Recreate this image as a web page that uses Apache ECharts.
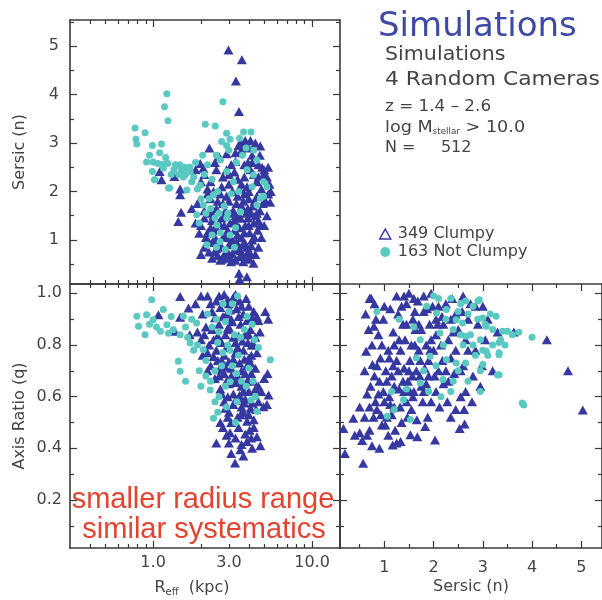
<!DOCTYPE html>
<html><head><meta charset="utf-8">
<script src="https://cdn.jsdelivr.net/npm/echarts@6/dist/echarts.min.js"></script>
<style>html,body{margin:0;padding:0;background:#fff}#c{width:602px;height:600px}</style>
</head><body><div id="c"></div>
<script>
// ---------- DATA ----------
// Top-left panel: [R_eff (kpc), Sersic n]
const clumpyReffN = [
 [2.98,4.92],[3.62,4.72],[3.32,4.28],[3.47,3.65],[2.26,2.90],[4.73,2.94],[1.10,2.41],[1.13,2.24],[1.36,2.31],[1.48,2.05],
 [1.48,1.93],[1.44,1.38],[1.50,1.57],[1.95,1.14],[1.98,2.58],[2.07,2.48],[4.28,0.52],[3.47,0.31],[3.89,0.24],[3.50,0.19],
 [2.6,2.72],[2.9,2.78],[3.3,2.62],[3.6,2.85],[3.8,3.05],[4.0,2.9],[4.2,2.75],[3.45,2.95],[4.6,2.55],[5.0,2.45],
 [3.1,2.55],[2.45,2.6],[4.4,3.0],[3.95,2.6],
 [2.1,2.35],[2.3,2.2],[2.5,2.45],[2.75,2.3],[3.0,2.15],[3.25,2.4],[3.5,2.05],[3.75,2.3],[4.1,2.45],[4.5,2.2],
 [4.8,2.05],[5.2,2.3],[5.4,2.15],[5.3,1.95],[5.5,2.0],[2.2,2.05],[2.0,2.2],[3.9,2.1],[4.3,2.35],[2.9,2.45],
 [4.95,2.35],[3.4,2.25],[1.85,2.45],[5.1,1.8],[5.45,1.78],
 [1.9,1.75],[2.1,1.6],[2.3,1.85],[2.5,1.65],[2.65,1.95],[2.85,1.55],[3.0,1.8],[3.2,1.6],[3.4,1.9],[3.6,1.7],
 [3.85,1.55],[4.0,1.85],[4.25,1.7],[4.5,1.9],[4.7,1.6],[4.9,1.75],[2.4,1.5],[3.3,1.5],[4.4,1.5],[1.75,1.65],
 [2.75,1.75],[3.75,1.95],[2.2,1.95],
 [2.0,1.3],[2.2,1.15],[2.35,1.4],[2.55,1.2],[2.7,1.45],[2.9,1.1],[3.05,1.35],[3.25,1.2],[3.45,1.45],[3.6,1.05],
 [3.8,1.3],[4.05,1.15],[4.3,1.35],[4.55,1.2],[4.8,1.05],[2.45,1.05],[3.15,1.0],[3.95,1.45],[2.8,1.3],[3.5,1.25],
 [4.2,1.0],[1.85,1.35],[5.0,1.3],[4.6,1.4],
 [2.1,0.85],[2.25,0.75],[2.4,0.95],[2.55,0.68],[2.7,0.85],[2.85,0.62],[3.0,0.9],[3.15,0.72],[3.3,0.58],[3.45,0.85],
 [3.6,0.68],[3.8,0.92],[3.95,0.75],[4.15,0.88],[4.4,0.7],[2.35,0.62],[2.65,0.58],[3.1,0.55],[3.7,0.55],[2.95,0.75],
 [3.35,0.95],[4.6,0.85],[2.0,0.7],[4.05,0.6],[2.5,0.82],[3.55,0.78],
 [2.15,1.05],[2.3,1.25],[2.45,0.75],[2.6,0.95],[2.75,1.05],[2.8,0.7],[2.95,1.2],[3.05,0.65],[3.2,0.95],[3.25,1.4],
 [3.4,1.1],[3.5,0.65],[3.65,0.9],[3.75,1.15],[3.9,0.85],[4.0,1.3],[4.1,0.72],[4.35,1.05],[4.5,1.55],[2.6,1.35],
 [2.85,1.6],[3.1,1.55],[3.35,1.75],[3.55,1.45],[3.7,1.8],[3.95,1.65],[4.15,1.55],[4.35,1.8],[2.3,1.55],[2.55,1.8],
 [2.9,1.9],[3.15,2.0],[3.6,2.15],[4.0,2.0],[4.6,2.3],[4.85,2.5],[2.45,1.25],[2.7,0.6],[3.0,1.05],[3.3,0.8],
 [3.85,0.65],[2.25,0.95],[2.1,1.45],[4.7,1.3],[5.2,1.5],[5.3,2.5],[4.2,2.6],[3.75,2.55],[3.3,2.8],[3.0,2.35],
 [2.7,2.1],[2.4,2.0],[4.7,2.75],[4.1,3.05],[3.55,3.0]
];
const notClumpyReffN = [
 [1.22,4.02],[1.18,3.75],[1.24,3.46],[0.77,3.31],[0.89,3.21],[0.78,3.08],[0.79,2.98],[0.99,2.95],[1.13,2.98],[1.10,2.80],
 [0.91,2.61],[1.07,2.58],[1.15,2.56],[1.24,2.58],[0.99,2.41],[1.02,2.24],[1.27,2.07],[2.13,3.39],[2.46,3.35],[2.75,3.85],
 [2.9,3.2],[3.05,3.08],[2.7,3.03],[2.9,2.95],[3.71,3.23],[4.13,3.23],[5.2,2.1],[4.95,1.9],[4.5,2.65],
 [1.35,2.45],[1.42,2.52],[1.5,2.4],[1.58,2.5],[1.45,2.35],[1.62,2.42],[1.38,2.55],[1.7,2.5],[1.55,2.3],
 [1.0,2.61],[1.16,2.48],[1.52,2.51],[1.71,2.41],[1.03,2.24],[1.25,2.07],[1.63,2.03],[1.98,2.13],[2.64,2.65],[2.91,2.41],
 [2.4,1.93],[2.07,1.72],[1.88,1.52],[2.52,1.31],[2.91,1.45],[3.05,1.10],[2.18,0.90],[2.64,0.96],[4.28,2.34],[4.95,2.2],
 [4.73,1.86],[3.54,1.58],[4.5,1.72],
 [1.8,2.3],[2.2,2.55],[2.35,2.25],[2.55,2.0],[2.0,1.85],[2.3,1.65],[1.95,1.35],[2.45,1.45],[2.8,1.7],[3.1,1.95],
 [3.35,2.6],[3.2,2.2],[3.9,2.45],[3.65,2.75],[3.0,2.85],[2.65,1.15],[2.85,0.8],[3.25,0.85],[2.5,2.75],[1.85,2.6],[2.05,2.75],
 [1.3,2.35],[1.47,2.55],[1.6,2.35],[1.75,2.2],[1.9,2.05],[2.1,2.35],[2.25,1.85],[2.15,1.55],[2.6,1.55],[2.35,1.1],
 [2.5,0.85],[2.95,1.55],[3.3,1.25],[3.45,2.0],[3.85,2.9],[4.3,2.85],[4.2,2.1],[3.5,3.1],[1.2,2.7],[0.95,2.75]
];
// Bottom-left panel: [R_eff (kpc), axis ratio q]
const clumpyReffQ = [
 [1.48,0.988],[1.67,0.943],[1.08,0.917],[1.37,0.853],[1.48,0.907],[5.08,0.93],[4.5,0.91],[5.3,0.9],[4.18,0.80],[5.33,0.606],
 [4.95,0.561],[5.25,0.69],[5.2,0.57],[4.73,0.41],[3.28,0.343],[2.5,0.42],[2.9,0.45],[3.54,0.394],[4.5,0.445],[3.89,0.426],
 [3.1,0.38],[4.2,0.40],[3.7,0.37],[2.75,0.48],[3.3,0.44],[4.05,0.47],
 [2.2,0.99],[2.5,0.97],[2.8,0.995],[3.0,0.96],[3.2,0.985],[3.5,0.97],[2.35,0.93],[2.65,0.945],[2.9,0.92],[3.35,0.94],
 [3.7,0.92],[4.0,0.95],[1.85,0.96],[2.05,0.92],[4.3,0.93],[3.1,0.90],[2.0,0.99],
 [1.9,0.85],[2.15,0.87],[2.4,0.82],[2.6,0.88],[2.85,0.84],[3.05,0.86],[3.3,0.81],[3.55,0.88],[3.8,0.84],[4.1,0.86],
 [4.4,0.83],[4.7,0.85],[2.25,0.80],[2.7,0.81],[3.45,0.835],[3.95,0.81],[1.7,0.84],[2.0,0.82],[3.15,0.89],[4.6,0.895],
 [2.05,0.76],[2.3,0.72],[2.5,0.78],[2.7,0.74],[2.9,0.79],[3.1,0.71],[3.3,0.77],[3.5,0.73],[3.7,0.78],[3.9,0.72],
 [4.15,0.76],[4.4,0.71],[2.2,0.70],[2.6,0.705],[3.2,0.745],[3.6,0.70],[4.0,0.75],[2.4,0.755],[2.85,0.715],
 [2.45,0.67],[2.65,0.63],[2.8,0.69],[3.0,0.65],[3.2,0.61],[3.4,0.68],[3.6,0.64],[3.8,0.69],[4.0,0.62],[4.3,0.66],
 [4.6,0.64],[5.0,0.67],[2.95,0.60],[3.5,0.605],[4.15,0.69],[2.7,0.61],[3.3,0.655],
 [2.8,0.58],[3.0,0.54],[3.2,0.57],[3.4,0.52],[3.6,0.56],[3.8,0.59],[4.0,0.53],[4.2,0.575],[4.45,0.55],[3.1,0.50],
 [3.5,0.595],[3.9,0.505],[2.95,0.52],[4.3,0.51],[3.7,0.54],
 [2.3,0.96],[2.6,0.99],[2.95,0.975],[3.3,0.995],[3.6,0.95],[3.85,0.98],[2.45,0.905],[2.75,0.91],[3.05,0.935],[3.45,0.91],
 [3.9,0.895],[4.2,0.905],[2.1,0.84],[2.35,0.86],[2.55,0.835],[2.95,0.865],[3.2,0.83],[3.65,0.815],[4.0,0.84],[4.3,0.80],
 [2.2,0.77],[2.55,0.74],[2.8,0.76],[3.0,0.735],[3.4,0.79],[3.75,0.745],[4.1,0.73],[4.5,0.77],[2.6,0.68],[2.9,0.66],
 [3.1,0.68],[3.5,0.66],[3.7,0.62],[3.95,0.665],[4.4,0.63],[4.8,0.62],[2.85,0.555],[3.3,0.585],[3.55,0.53],[3.75,0.575],
 [4.1,0.555],[4.6,0.58],[3.05,0.46],[3.45,0.48],[3.8,0.455],[4.15,0.44],[2.65,0.5],[3.6,0.415],[4.3,0.48],[3.0,0.42]
];
const notClumpyReffQ = [
 [0.79,0.911],[0.81,0.872],[0.98,0.975],[0.91,0.917],[1.0,0.898],[1.16,0.937],[0.89,0.84],[1.11,0.853],[1.22,0.878],[1.34,0.859],
 [1.48,0.84],[1.55,0.911],[1.44,0.737],[1.48,0.698],[1.71,0.808],[1.88,0.885],[2.07,0.782],[5.47,0.743],[2.29,0.626],[2.4,0.516],
 [3.05,0.658],[3.37,0.58],[4.13,0.587],[4.5,0.542],
 [1.25,0.845],[1.05,0.87],[1.6,0.87],[1.75,0.90],[2.2,0.92],[2.5,0.90],[2.75,0.96],[3.0,0.93],[3.4,0.99],[2.6,0.85],
 [2.95,0.80],[3.25,0.84],[3.75,0.86],[4.2,0.88],[4.6,0.79],[2.15,0.74],[2.45,0.70],[2.75,0.77],[3.15,0.72],[3.45,0.76],
 [2.3,0.66],[2.6,0.60],[2.85,0.64],[3.6,0.66],[4.0,0.71],[4.4,0.60],[2.55,0.54],[3.3,0.50],[1.95,0.70],[2.0,0.64],[1.8,0.78],
 [1.3,0.91],[0.95,0.88],[1.65,0.83],[1.9,0.80],[2.35,0.87],[2.85,0.89],[3.15,0.96],[3.55,0.83],[2.55,0.81],[3.05,0.78],
 [3.35,0.69],[2.7,0.72],[2.45,0.58],[2.9,0.56],[3.85,0.64],[4.25,0.66],[2.15,0.68],[1.6,0.66],[3.9,0.91],[4.35,0.82]
];
// Bottom-right panel: [Sersic n, axis ratio q]
const clumpyNQ = [
 [5.03,0.548],[4.73,0.70],[4.3,0.82],[3.63,0.85],[0.2,0.38],[0.17,0.477],[0.37,0.516],[0.57,0.342],[0.7,0.98],[1.5,1.0],
 [1.8,0.99],[0.9,0.40],[1.17,0.413],[1.33,0.426],[1.53,0.452],[1.67,0.445],[1.83,0.484],[2.03,0.432],[2.53,0.477],[2.63,0.494],
 [0.73,0.982],[0.8,0.96],[0.63,0.776],[0.76,0.724],[0.79,0.872],[0.6,0.52],[0.7,0.47],[0.85,0.55],[0.95,0.49],[0.65,0.61],
 [0.9,0.66],[0.55,0.43],[0.75,0.41],[0.82,0.58],[0.98,0.62],[0.92,0.75],[0.68,0.86],[0.88,0.84],[0.5,0.46],
 [1.05,0.52],[1.1,0.60],[1.15,0.68],[1.2,0.56],[1.25,0.74],[1.3,0.63],[1.35,0.50],[1.4,0.71],[1.45,0.58],[1.08,0.78],
 [1.18,0.85],[1.28,0.92],[1.38,0.88],[1.45,0.96],[1.12,0.94],[1.22,0.47],[1.42,0.82],[1.03,0.70],[1.33,0.78],[1.48,0.66],[1.25,0.99],
 [1.55,0.55],[1.6,0.62],[1.65,0.70],[1.7,0.78],[1.75,0.86],[1.8,0.93],[1.85,0.65],[1.9,0.74],[1.95,0.82],[1.58,0.90],
 [1.68,0.97],[1.78,0.58],[1.88,0.52],[1.62,0.80],[1.72,0.68],[1.92,0.88],[1.98,0.95],[1.52,0.74],[1.82,0.71],[1.66,0.51],
 [2.05,0.62],[2.1,0.70],[2.15,0.80],[2.2,0.88],[2.25,0.96],[2.3,0.66],[2.35,0.75],[2.4,0.85],[2.45,0.92],[2.12,0.56],
 [2.28,0.58],[2.42,0.69],[2.05,0.90],[2.38,0.98],[2.18,0.74],
 [2.55,0.60],[2.6,0.72],[2.65,0.82],[2.7,0.90],[2.75,0.96],[2.85,0.78],[2.9,0.88],[2.95,0.64],[2.8,0.68],[2.58,0.93],
 [2.98,0.72],[2.62,0.55],[2.78,0.58],
 [3.05,0.82],[3.1,0.90],[3.2,0.70],[3.3,0.85],[3.0,0.95],
 [0.6,0.70],[0.72,0.64],[0.85,0.72],[0.95,0.80],[0.78,0.52],[0.65,0.45],[1.0,0.58],[1.08,0.45],[1.15,0.53],[1.2,0.64],
 [1.28,0.70],[1.32,0.56],[1.4,0.62],[1.5,0.70],[1.55,0.80],[1.45,0.88],[1.35,0.95],[1.62,0.93],[1.7,0.88],[1.75,0.64],
 [1.85,0.80],[1.9,0.68],[1.95,0.58],[2.0,0.78],[2.05,0.84],[2.1,0.95],[2.2,0.65],[2.25,0.70],[2.3,0.82],[2.35,0.90],
 [2.45,0.78],[2.5,0.86],[2.55,0.70],[2.65,0.62],[2.7,0.78],[2.85,0.95],[2.45,0.55],[2.35,0.52],[1.1,0.75],[0.98,0.90],
 [1.6,0.98],[1.95,1.0],[2.6,0.99],[0.5,0.56],[0.4,0.45],[1.25,0.42],[1.05,0.66],[1.58,0.60],[1.2,0.80],
 [0.7,0.56],[0.8,0.68],[0.88,0.61],[0.93,0.53],[1.02,0.49],[1.12,0.57],[1.18,0.72],[1.3,0.82],[1.38,0.66],[1.47,0.52],
 [1.52,0.62],[1.57,0.68],[1.63,0.86],[1.73,0.74],[1.8,0.62],[1.87,0.94],[1.93,0.78],[2.02,0.68],[2.08,0.88],[2.17,0.91],
 [0.75,0.80],[0.83,0.90],[1.0,0.95],[0.62,0.92],[1.4,0.99]
];
const notClumpyNQ = [
 [3.83,0.568],[4.0,0.83],[3.5,0.853],[3.33,0.81],[3.33,0.77],[3.3,0.684],
 [2.93,0.975],[3.27,0.911],[3.0,0.904],[3.07,0.872],[3.4,0.853],[3.73,0.849],[3.2,0.80],[3.36,0.82],[3.07,0.776],[3.33,0.762],
 [3.0,0.724],[3.33,0.685],[3.8,0.575],
 [1.86,0.95],[2.06,0.924],[2.26,0.937],[2.46,0.898],[2.13,0.846],[1.73,0.82],[1.93,0.756],[2.26,0.743],[2.46,0.73],[2.19,0.666],
 [1.73,0.653],[1.39,0.588],[1.06,0.524],[1.53,0.511],[2.59,0.885],[2.66,0.834],
 [2.8,0.95],[2.9,0.90],[2.7,0.92],[2.55,0.96],[2.35,0.98],[2.0,0.99],[2.4,0.86],[2.6,0.80],[2.75,0.84],[2.85,0.76],
 [2.5,0.70],[2.7,0.66],[2.95,0.82],[3.15,0.92],[3.1,0.76],[2.2,0.80],[2.05,0.72],[1.6,0.87],[1.3,0.90],[0.85,0.93],
 [1.9,0.62],[2.35,0.62],[2.95,0.62],[1.15,0.62],
 [2.1,0.98],[2.25,0.90],[2.5,0.93],[2.65,0.97],[2.9,0.97],[3.05,0.88],[3.2,0.86],[3.45,0.80],[2.55,0.84],[2.8,0.80],
 [3.0,0.78],[2.65,0.73],[2.95,0.70],[2.4,0.66],[2.15,0.60],[1.8,0.70],[1.65,0.75],[1.45,0.63],[1.2,0.55],[3.6,0.84]
];
// Tick values
const reffLabels = [1, 3, 10];
const reffMajor = [1, 10];
const reffMinor = [0.4,0.5,0.6,0.7,0.8,0.9,2,3,4,5,6,7,8,9];
const sersicLabels = [1, 2, 3, 4, 5];
const sersicMinor = [0.5, 1.5, 2.5, 3.5, 4.5, 5.5];
const qLabels = [0.2, 0.4, 0.6, 0.8, 1.0];
const qMinor = [0.1, 0.3, 0.5, 0.7, 0.9];

// ---------- STYLE ----------
const FONT = 'DejaVu Sans';
const AX = '#3a3a3a';
const NAVY = '#3538a0';
const TEAL = '#5ac9c1';
const TXT = '#444';

const R = {type:'log', min:0.3, max:15};
const NT = {type:'value', min:0.09, max:5.54};
const NB = {type:'value', min:0.1, max:5.42};
const Q = {type:'value', min:0.014, max:1.036};

function axis(rng, grid, pos, ticks, len, o) {
  o = o || {};
  const a = {
    type: rng.type, gridIndex: grid, position: pos, min: rng.min, max: rng.max,
    axisLine: {show: o.line !== false, onZero: false, lineStyle: {color: AX, width: 1.6}},
    axisTick: {show: true, inside: true, length: len, customValues: ticks, lineStyle: {color: AX, width: 1.2}},
    axisLabel: o.labels ? {show: true, customValues: o.labels, formatter: o.fmt, margin: o.margin,
      color: TXT, fontSize: 16, fontFamily: FONT} : {show: false},
    splitLine: {show: false}, minorTick: {show: false}, silent: true
  };
  if (rng.type === 'log') a.logBase = 10;
  if (o.name) {
    a.name = o.name; a.nameLocation = 'middle'; a.nameGap = o.nameGap;
    if (o.rotate) a.nameRotate = 90;
    a.nameTextStyle = {color: TXT, fontSize: 16, fontFamily: FONT, padding: o.namePad || 0,
      rich: {m: {fontSize: 16, fontFamily: FONT, color: TXT}, s: {fontSize: 10, fontFamily: FONT, color: TXT, padding: [8, 0, 0, 0]}}};
  }
  return a;
}
const f1 = v => Number(v).toFixed(1);
const f0 = v => String(Math.round(v));

const xAxes = [
  axis(R, 0, 'bottom', reffMajor, 7),
  axis(R, 1, 'bottom', reffMajor, 7, {labels: reffLabels, fmt: f1, margin: 7, name: '{m|R}{s|eff}{m|  (kpc)}', nameGap: 31, namePad: [0, 26, 0, 0]}),
  axis(NB, 2, 'bottom', sersicLabels, 7, {labels: sersicLabels, fmt: f0, margin: 12, name: 'Sersic (n)', nameGap: 31}),
  axis(R, 0, 'bottom', reffMinor, 4, {line: false}),
  axis(R, 0, 'top', reffMajor, 7),
  axis(R, 0, 'top', reffMinor, 4, {line: false}),
  axis(R, 1, 'bottom', reffMinor, 4, {line: false}),
  axis(R, 1, 'top', reffMajor, 7),
  axis(R, 1, 'top', reffMinor, 4, {line: false}),
  axis(NB, 2, 'bottom', sersicMinor, 4, {line: false}),
  axis(NB, 2, 'top', sersicLabels, 7),
  axis(NB, 2, 'top', sersicMinor, 4, {line: false})
];
const yAxes = [
  axis(NT, 0, 'left', sersicLabels, 7, {labels: sersicLabels, fmt: f0, margin: 11, name: 'Sersic (n)', nameGap: 42, rotate: true}),
  axis(Q, 1, 'left', qLabels, 7, {labels: qLabels, fmt: f1, margin: 8, name: 'Axis Ratio (q)', nameGap: 42, rotate: true}),
  axis(Q, 2, 'left', qLabels, 7),
  axis(NT, 0, 'left', sersicMinor, 4, {line: false}),
  axis(NT, 0, 'right', sersicLabels, 7),
  axis(NT, 0, 'right', sersicMinor, 4, {line: false}),
  axis(Q, 1, 'left', qMinor, 4, {line: false}),
  axis(Q, 1, 'right', qLabels, 7),
  axis(Q, 1, 'right', qMinor, 4, {line: false}),
  axis(Q, 2, 'left', qMinor, 4, {line: false}),
  axis(Q, 2, 'right', qLabels, 7),
  axis(Q, 2, 'right', qMinor, 4, {line: false})
];

function tri(data, g) {
  return {name: '349 Clumpy', type: 'scatter', xAxisIndex: g, yAxisIndex: g, data: data,
    symbol: 'triangle', symbolSize: [10, 9], itemStyle: {color: NAVY, opacity: 1}, silent: true};
}
function dot(data, g) {
  return {name: '163 Not Clumpy', type: 'scatter', xAxisIndex: g, yAxisIndex: g, data: data,
    symbol: 'circle', symbolSize: 7, itemStyle: {color: TEAL, opacity: 1}, silent: true};
}

function txt(text, x, y, size, fill, sx, rich) {
  return {type: 'text', x: x, y: y, scaleX: sx || 1, silent: true,
    style: {text: text, fontSize: size, fontFamily: FONT, fill: fill, verticalAlign: 'middle', align: 'left', rich: rich}};
}

const option = {
  animation: false,
  backgroundColor: '#fff',
  textStyle: {fontFamily: FONT},
  grid: [
    {left: 70, top: 20, width: 270, height: 264},
    {left: 70, top: 284, width: 270, height: 264},
    {left: 340, top: 284, width: 266, height: 264}
  ],
  xAxis: xAxes,
  yAxis: yAxes,
  legend: {
    orient: 'vertical', left: 374, top: 221, itemGap: 2, itemWidth: 11, itemHeight: 10,
    selectedMode: false,
    textStyle: {fontSize: 16, fontFamily: FONT, color: TXT, padding: [0, 0, 0, 2]},
    data: [
      {name: '349 Clumpy', icon: 'triangle', itemStyle: {color: 'rgba(0,0,0,0)', borderColor: NAVY, borderWidth: 1.5}},
      {name: '163 Not Clumpy', icon: 'circle', itemStyle: {color: TEAL}}
    ]
  },
  graphic: [
    txt('Simulations', 378, 27, 33, '#3d4aa5', 1.03),
    txt('Simulations', 385, 55, 20, TXT, 1.03),
    txt('4 Random Cameras', 385, 80, 20, TXT, 1.09),
    txt('z = 1.4 – 2.6', 385, 107, 16, TXT, 1.05),
    txt('log M{s|stellar} > 10.0', 385, 128, 16, TXT, 1.1, {s: {fontSize: 8, fontFamily: FONT, fill: TXT, padding: [7, 0, 0, 0]}}),
    txt('N =     512', 385, 148, 16, TXT, 1.0),
    {type: 'text', x: 203, y: 500, silent: true, style: {text: 'smaller radius range', fontSize: 29,
      fontFamily: 'Liberation Sans', fill: '#e5432f', align: 'center', verticalAlign: 'middle'}},
    {type: 'text', x: 204, y: 530, silent: true, style: {text: 'similar systematics', fontSize: 29,
      fontFamily: 'Liberation Sans', fill: '#e5432f', align: 'center', verticalAlign: 'middle'}}
  ],
  series: [
    tri(clumpyReffN, 0), tri(clumpyReffQ, 1), tri(clumpyNQ, 2),
    dot(notClumpyReffN, 0), dot(notClumpyReffQ, 1), dot(notClumpyNQ, 2)
  ]
};
const chart = echarts.init(document.getElementById('c'));
chart.setOption(option);
</script></body></html>
